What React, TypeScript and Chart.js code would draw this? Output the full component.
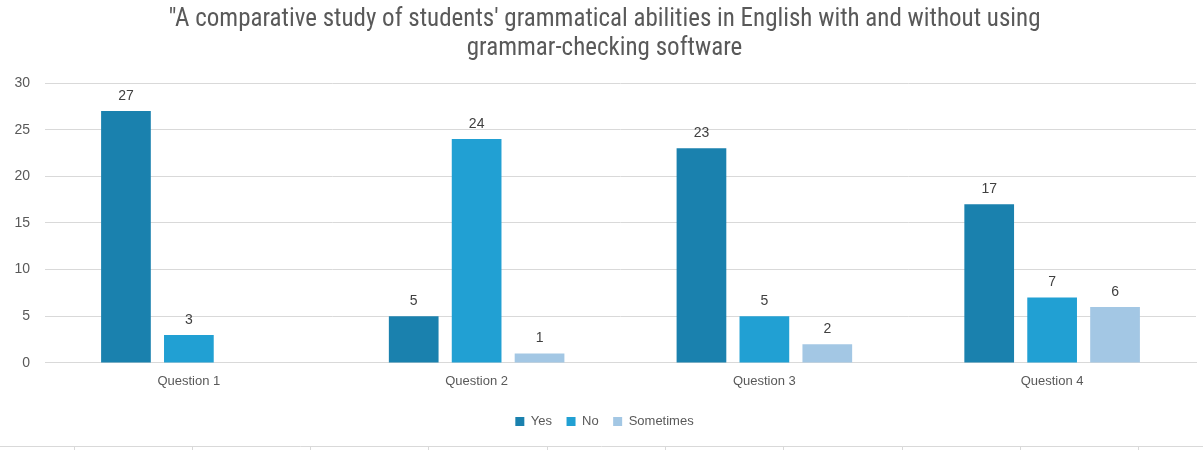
import React, { useEffect, useRef } from "react";
import { Chart, registerables } from "chart.js";

Chart.register(...registerables);

const categories = ["Question 1", "Question 2", "Question 3", "Question 4"];
const yesValues = [27, 5, 23, 17];
const noValues = [3, 24, 5, 7];
const sometimesValues = [null, 1, 2, 6];
const titleLines = [
  "\"A comparative study of students' grammatical abilities in English with and without using",
  "grammar-checking software",
];

const valueLabels = {
  id: "valueLabels",
  afterDatasetsDraw(chart: any) {
    const ctx = chart.ctx;
    ctx.save();
    ctx.font = "14px 'Liberation Sans', Arial, sans-serif";
    ctx.fillStyle = "#404040";
    ctx.textAlign = "center";
    ctx.textBaseline = "middle";
    chart.data.datasets.forEach((ds: any, i: number) => {
      const meta = chart.getDatasetMeta(i);
      meta.data.forEach((bar: any, j: number) => {
        const v = ds.data[j];
        if (v === null || v === undefined) return;
        ctx.fillText(String(v), bar.x, bar.y - 15);
      });
    });
    ctx.restore();
  },
};

const bottomRule = {
  id: "bottomRule",
  afterDraw(chart: any) {
    const ctx = chart.ctx;
    ctx.save();
    ctx.strokeStyle = "#d9d9d9";
    ctx.lineWidth = 1;
    ctx.beginPath();
    ctx.moveTo(0, 446.5);
    ctx.lineTo(chart.width, 446.5);
    for (let k = 0; k < 10; k++) {
      const x = Math.round(73.5 + 118.3 * k) + 0.5;
      ctx.moveTo(x, 446.5);
      ctx.lineTo(x, 450);
    }
    ctx.stroke();
    ctx.restore();
  },
};

export default function App() {
  const ref = useRef<HTMLCanvasElement>(null);
  useEffect(() => {
    if (!ref.current) return;
    const chart = new Chart(ref.current, {
      type: "bar",
      data: {
        labels: categories,
        datasets: [
          { label: "Yes", data: yesValues, backgroundColor: "#1a81ae" },
          { label: "No", data: noValues, backgroundColor: "#21a0d3" },
          { label: "Sometimes", data: sometimesValues as any, backgroundColor: "#a3c7e4" },
        ],
      },
      options: {
        animation: false,
        responsive: false,
        maintainAspectRatio: false,
        layout: { padding: { left: 13, right: 7, top: 0, bottom: 12 } },
        datasets: {
          bar: { categoryPercentage: 0.656, barPercentage: 0.79 },
        },
        scales: {
          x: {
            grid: { display: false, drawTicks: false },
            border: { display: true, color: "#d9d9d9" },
            ticks: {
              color: "#595959",
              font: { family: "'Liberation Sans', Arial, sans-serif", size: 13 },
              padding: 11,
            },
          },
          y: {
            min: 0,
            max: 30,
            afterFit(scale: any) {
              scale.width = 32;
            },
            ticks: {
              stepSize: 5,
              color: "#595959",
              font: { family: "'Liberation Sans', Arial, sans-serif", size: 14 },
              padding: 15,
            },
            grid: { color: "#d9d9d9", drawTicks: false },
            border: { display: false },
          },
        },
        plugins: {
          title: {
            display: true,
            text: titleLines,
            color: "#595959",
            font: {
              family: "'Liberation Sans Narrow', 'Roboto Condensed', 'Liberation Sans', sans-serif",
              size: 25,
              weight: "normal",
              lineHeight: 1.16,
            },
            padding: { top: 5, bottom: 20 },
          },
          legend: {
            position: "bottom",
            labels: {
              color: "#595959",
              font: { family: "'Liberation Sans', Arial, sans-serif", size: 13 },
              boxWidth: 9,
              boxHeight: 9,
              padding: 14.5,
            },
          },
          tooltip: { enabled: false },
        },
      },
      plugins: [valueLabels, bottomRule],
    });
    return () => chart.destroy();
  }, []);
  return (
    <div style={{ position: "absolute", left: 0, top: 0, width: 1203, height: 450, background: "#fff" }}>
      <canvas ref={ref} width={1203} height={450} style={{ display: "block" }} />
    </div>
  );
}
